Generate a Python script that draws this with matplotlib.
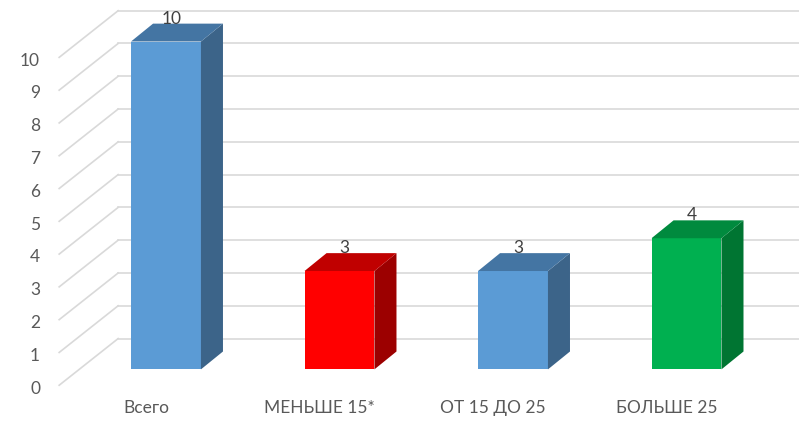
import matplotlib.pyplot as plt
from matplotlib.patches import Polygon

categories = ['Всего', 'МЕНЬШЕ 15*', 'ОТ 15 ДО 25', 'БОЛЬШЕ 25']
values = [10, 3, 3, 4]
front_colors = ['#5b9bd5', '#ff0000', '#5b9bd5', '#00b050']
top_colors = ['#4475a3', '#c00000', '#4475a3', '#008a3e']
side_colors = ['#3c6489', '#9c0000', '#3c6489', '#007532']
y_ticks = list(range(0, 11))

plt.rcParams['font.family'] = ['Lato', 'DejaVu Sans']

fig = plt.figure(figsize=(7.99, 4.22), dpi=100)
ax = fig.add_axes([0, 0, 1, 1])
ax.set_xlim(-0.841, 3.764)
ax.set_ylim(-1.121, 11.75)
ax.set_axis_off()

# depth of the back wall and of the bars (in data units)
wall_dx, wall_dy = 0.34, 1.424
bar_off = 0.34
bar_dx, bar_dy = 0.127, 0.545
bar_w = 0.403
x_left, x_right = -0.5, 3.5

grid_col = '#d9d9d9'
for k in y_ticks:
    ax.plot([x_left, x_left + wall_dx], [k, k + wall_dy], color=grid_col, lw=1.2, zorder=1)
    ax.plot([x_left + wall_dx, x_right + wall_dx], [k + wall_dy, k + wall_dy],
            color=grid_col, lw=1.2, zorder=1)
    ax.text(x_left - 0.11, k - 0.1, str(k), ha='right', va='center', fontsize=12.5, color='#595959')

for i, v in enumerate(values):
    cx = i + bar_off * wall_dx
    b = bar_off * wall_dy
    xl, xr = cx - bar_w / 2, cx + bar_w / 2
    top = v + b
    ax.bar(cx, v, bottom=b, width=bar_w, color=front_colors[i], zorder=3)
    side = Polygon([(xr, b), (xr + bar_dx, b + bar_dy), (xr + bar_dx, top + bar_dy), (xr, top)],
                   closed=True, facecolor=side_colors[i], edgecolor='none', zorder=3)
    lid = Polygon([(xl, top), (xr, top), (xr + bar_dx, top + bar_dy), (xl + bar_dx, top + bar_dy)],
                  closed=True, facecolor=top_colors[i], edgecolor='none', zorder=3)
    ax.add_patch(side)
    ax.add_patch(lid)
    ax.text(cx + 0.03, top + 0.7, str(v), ha='center', va='center', fontsize=12.5,
            color='#404040', zorder=4)
    ax.text(i, -0.7, categories[i], ha='center', va='center', fontsize=12.5, color='#595959')

fig.savefig('out.png', dpi=100)
